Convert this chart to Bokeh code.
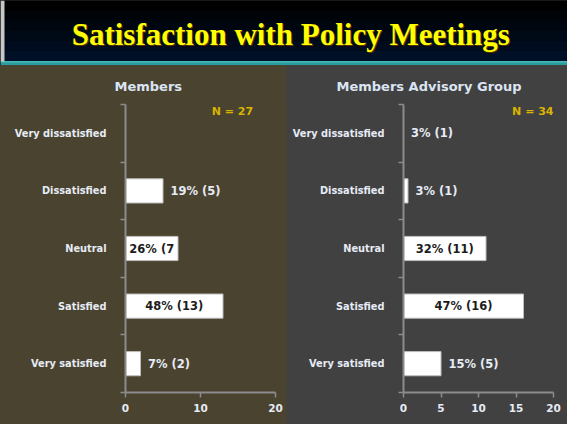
from bokeh.plotting import figure
from bokeh.layouts import column, row
from bokeh.models import ColumnDataSource, Label, FixedTicker, Range1d
from bokeh.embed import file_html
from bokeh.resources import INLINE
from bokeh.core.properties import value

# ---------------- data ----------------
title_text = "Satisfaction with Policy Meetings"
# bottom to top
categories = ["Very satisfied", "Satisfied", "Neutral", "Dissatisfied", "Very dissatisfied"]

members_title = "Members"
members_counts = [2, 13, 7, 5, 0]
members_labels = ["7% (2)", "48% (13)", "26% (7", "19% (5)", ""]
members_n = "N = 27"
members_ticks = [0, 10, 20]

mag_title = "Members Advisory Group"
mag_counts = [5, 16, 11, 0.6, 0]
mag_labels = ["15% (5)", "47% (16)", "32% (11)", "3% (1)", "3% (1)"]
mag_n = "N = 34"
mag_ticks = [0, 5, 10, 15, 20]

FONT = "DejaVu Sans"
LIGHT = "#e6ebf5"
DARK = "#1c1c1c"
PANEL_H = 359


def make_panel(name, counts, labels, n_text, xticks, width, border_left, border_right, bg,
               title_offset, n_x, n_align):
    p = figure(width=width, height=PANEL_H, x_range=Range1d(0, 20), y_range=Range1d(-0.5, 4.5),
               output_backend="svg", toolbar_location=None,
               min_border_left=border_left, min_border_right=border_right,
               min_border_top=38, min_border_bottom=32)
    p.background_fill_color = bg
    p.border_fill_color = bg
    p.outline_line_color = None
    p.grid.visible = False

    p.title.text = name
    p.title.align = "left"
    p.title.offset = title_offset
    p.title.standoff = 22
    p.title.text_font = FONT
    p.title.text_font_style = "bold"
    p.title.text_font_size = "13px"
    p.title.text_color = "#dbe4f3"

    ys = list(range(len(categories)))
    bars = ColumnDataSource(dict(y=ys, count=counts))
    p.hbar(y="y", left=0, right="count", height=0.42, source=bars,
           fill_color="white", line_color="#bdbdbd", line_width=1)

    inside = dict(x=[], y=[], t=[])
    outside = dict(x=[], y=[], t=[])
    for y, c, lab in zip(ys, counts, labels):
        if not lab:
            continue
        if c >= 7:
            inside["x"].append(c / 2); inside["y"].append(y); inside["t"].append(lab)
        else:
            outside["x"].append(c + 1.0); outside["y"].append(y); outside["t"].append(lab)
    p.text(x="x", y="y", text="t", source=ColumnDataSource(inside),
           text_font=value(FONT), text_font_style="bold", text_font_size="11.5px",
           text_align="center", text_baseline="middle", text_color=DARK)
    p.text(x="x", y="y", text="t", source=ColumnDataSource(outside),
           text_font=value(FONT), text_font_style="bold", text_font_size="11.5px",
           text_align="left", text_baseline="middle", text_color=LIGHT)

    # y axis
    ya = p.yaxis[0]
    ya.ticker = FixedTicker(ticks=ys, minor_ticks=[-0.5, 0.5, 1.5, 2.5, 3.5, 4.5])
    ya.major_label_overrides = {i: c for i, c in enumerate(categories)}
    ya.major_tick_out = 0
    ya.major_tick_in = 0
    ya.major_tick_line_color = None
    ya.minor_tick_out = 5
    ya.minor_tick_in = 0
    ya.minor_tick_line_color = "#8c8c8c"
    ya.minor_tick_line_width = 1.5
    ya.axis_line_color = "#8c8c8c"
    ya.axis_line_width = 2
    ya.major_label_standoff = 14
    ya.major_label_text_font_size = "9.8px"

    # x axis
    xa = p.xaxis[0]
    xa.ticker = FixedTicker(ticks=xticks)
    xa.minor_tick_line_color = None
    xa.major_tick_out = 5
    xa.major_tick_in = 0
    xa.major_tick_line_color = "#8c8c8c"
    xa.major_tick_line_width = 1.5
    xa.axis_line_color = "#8c8c8c"
    xa.axis_line_width = 2
    xa.major_label_standoff = 6
    xa.major_label_text_font_size = "10.5px"

    for ax in (xa, ya):
        ax.major_label_text_font = FONT
        ax.major_label_text_font_style = "bold"
        ax.major_label_text_color = LIGHT

    p.add_layout(Label(x=n_x, y=4.37, text=n_text, text_font=FONT, text_font_style="bold",
                       text_font_size="11px", text_color="#d9b300",
                       text_align=n_align, text_baseline="middle"))
    return p


left = make_panel(members_title, members_counts, members_labels, members_n, members_ticks,
                  286, 125, 11, "#4a432f", -11, 11.5, "left")
right = make_panel(mag_title, mag_counts, mag_labels, mag_n, mag_ticks,
                   281, 117, 14, "#414141", -67, 20, "right")

# ---------------- title band ----------------
TW, TH = 567, 65
t = figure(width=TW, height=TH, x_range=Range1d(0, TW), y_range=Range1d(0, TH),
           output_backend="svg", toolbar_location=None, x_axis_type=None, y_axis_type=None,
           min_border=0)
t.outline_line_color = None
t.grid.visible = False
t.border_fill_color = "#000000"
t.background_fill_color = "#000000"
band_colors = ["#000000", "#000308", "#00060f", "#000916", "#000c1e", "#001026"]
band_tops = [65, 55, 45, 35, 25, 15]
band_bottoms = [55, 45, 35, 25, 15, 4]
t.quad(left=0, right=TW, bottom=band_bottoms, top=band_tops, fill_color=band_colors, line_color=None)
t.quad(left=0, right=TW, bottom=[0], top=[4], fill_color="#2a9d9d", line_color=None)
t.quad(left=0, right=TW, bottom=[3], top=[4.5], fill_color="#48b8b8", line_color=None)
t.quad(left=0, right=4, bottom=[4], top=[TH], fill_color="#c8c8c8", line_color=None)
t.text(x=[291.3], y=[29.7], text=[title_text], text_font=value("Liberation Serif"),
       text_font_style="bold", text_font_size="31px", text_align="center",
       text_baseline="alphabetic", text_color="#5a3000")
t.text(x=[290.3], y=[30.7], text=[title_text], text_font=value("Liberation Serif"),
       text_font_style="bold", text_font_size="31px", text_align="center",
       text_baseline="alphabetic", text_color="#ffff00")

panels = row(left, right, spacing=0, styles={"background-color": "#464238"})
layout = column(t, panels, spacing=0, styles={"background-color": "#464238"})
open("out.html", "w").write(file_html(layout, INLINE))
